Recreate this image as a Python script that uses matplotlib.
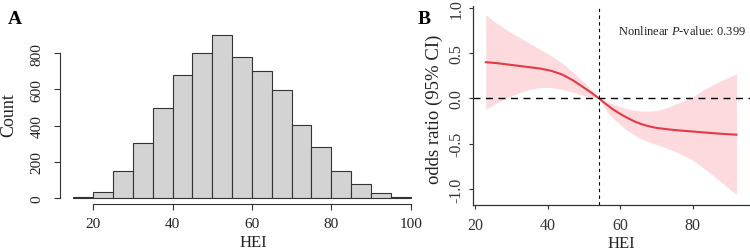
import matplotlib
matplotlib.use("Agg")
import matplotlib.pyplot as plt

plt.rcParams["font.family"] = ["Liberation Serif", "DejaVu Serif"]
plt.rcParams["mathtext.fontset"] = "custom"
plt.rcParams["mathtext.rm"] = "Liberation Serif"
plt.rcParams["mathtext.it"] = "Liberation Serif:italic"

# ------------------------------
# Panel A data: HEI histogram
# ------------------------------
bin_edges = [15, 20, 25, 30, 35, 40, 45, 50, 55, 60, 65, 70, 75, 80, 85, 90, 95, 100]
counts = [5, 33, 151, 302, 496, 678, 802, 901, 778, 702, 597, 402, 280, 149, 77, 26, 3]

# ------------------------------
# Panel B data: restricted cubic spline
# ------------------------------
hei = [23, 26, 29, 32, 35, 38, 41, 44, 47, 50, 52, 54.2, 56, 58, 60, 62, 64, 66,
       68, 70, 73, 76, 80, 84, 88, 92]
est = [0.40, 0.39, 0.375, 0.36, 0.345, 0.33, 0.305, 0.265, 0.20, 0.12, 0.065, 0.0,
       -0.06, -0.12, -0.17, -0.215, -0.255, -0.285, -0.308, -0.325, -0.34, -0.352,
       -0.365, -0.378, -0.39, -0.40]
ci_lo = [-0.12, -0.05, 0.01, 0.06, 0.10, 0.12, 0.12, 0.10, 0.07, 0.03, 0.015, 0.0,
         -0.12, -0.22, -0.29, -0.355, -0.405, -0.45, -0.48, -0.51, -0.55, -0.60,
         -0.68, -0.80, -0.93, -1.06]
ci_hi = [0.92, 0.83, 0.75, 0.68, 0.61, 0.54, 0.47, 0.39, 0.29, 0.18, 0.10, 0.0,
         -0.03, -0.06, -0.09, -0.115, -0.13, -0.14, -0.14, -0.135, -0.10, -0.05,
         0.02, 0.12, 0.20, 0.27]
knot = 54.2
p_text = "0.399"

W, H = 750, 251
fig = plt.figure(figsize=(W / 100, H / 100), dpi=100)

# ------------------------------
# Panel A
# ------------------------------
axA = fig.add_axes([60 / W, 1 - 205 / H, 355 / W, 190 / H])
axA.bar(bin_edges[:-1], counts, width=5, align="edge",
        color="#d3d3d3", edgecolor="#333333", linewidth=0.8)
axA.set_xlim(11.6, 101.1)
axA.set_ylim(-33.2, 1017)
for s in ["top", "right"]:
    axA.spines[s].set_visible(False)
axA.spines["left"].set_bounds(0, 800)
axA.spines["bottom"].set_bounds(20, 100)
axA.set_xticks([20, 40, 60, 80, 100])
axA.set_yticks([0, 200, 400, 600, 800])
axA.tick_params(axis="both", direction="out", length=4, width=0.8,
                labelsize=11, color="#333333", labelcolor="#222222")
axA.tick_params(axis="x", pad=5)
axA.tick_params(axis="y", pad=8)
plt.setp(axA.get_yticklabels(), rotation=90, va="center")
for s in ["left", "bottom"]:
    axA.spines[s].set_linewidth(0.8)
    axA.spines[s].set_color("#333333")
fig.text(8.5 / W, 1 - 115 / H, "Count", rotation=90, ha="center", va="center",
         fontsize=13, color="#222222")
fig.text(253 / W, 1 - 243 / H, "HEI", ha="center", va="center",
         fontsize=12, color="#222222")
fig.text(15 / W, 1 - 19 / H, "A", ha="center", va="center",
         fontsize=14, fontweight="bold")

# ------------------------------
# Panel B
# ------------------------------
axB = fig.add_axes([472.7 / W, 1 - 205.5 / H, 276.8 / W, 198.5 / H])
axB.fill_between(hei, ci_lo, ci_hi, color="#fcdadd", linewidth=0)
axB.plot(hei, est, color="#e53945", linewidth=1.5)
axB.axhline(0, color="black", linestyle=(0, (5, 4)), linewidth=1.0)
axB.axvline(knot, color="black", linestyle=(0, (3, 3)), linewidth=0.8)
axB.set_xlim(19.4, 95.6)
axB.set_ylim(-1.17, 1.02)
for s in ["top", "right"]:
    axB.spines[s].set_visible(False)
for s in ["left", "bottom"]:
    axB.spines[s].set_linewidth(0.9)
    axB.spines[s].set_color("#333333")
axB.set_xticks([20, 40, 60, 80])
axB.set_yticks([-1.0, -0.5, 0.0, 0.5, 1.0])
axB.set_yticklabels(["-1.0", "-0.5", "0.0", "0.5", "1.0"])
axB.tick_params(axis="both", direction="out", length=3, width=0.8,
                labelsize=11.5, color="#333333", labelcolor="#333333")
axB.tick_params(axis="x", pad=6)
axB.tick_params(axis="y", pad=3)
plt.setp(axB.get_yticklabels(), rotation=90, va="center")
axB.text(0.525, 0.879, "Nonlinear $\\mathit{P}$-value: " + p_text,
         transform=axB.transAxes, ha="left", va="center", fontsize=9,
         color="#222222")
fig.text(434 / W, 1 - 109 / H, "odds ratio (95% CI)", rotation=90,
         ha="center", va="center", fontsize=13.5, color="#222222")
fig.text(621 / W, 1 - 244 / H, "HEI", ha="center", va="center",
         fontsize=12, color="#222222")
fig.text(424 / W, 1 - 19 / H, "B", ha="center", va="center",
         fontsize=14, fontweight="bold")

fig.savefig("out.png", dpi=100)
